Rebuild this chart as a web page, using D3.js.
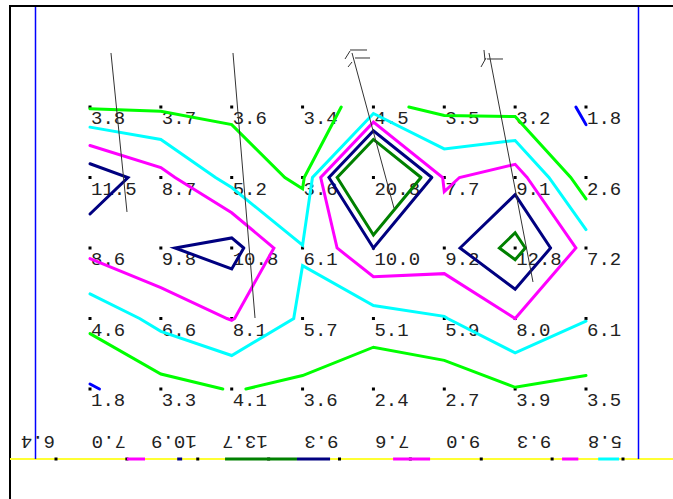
<!DOCTYPE html>
<html>
<head>
<meta charset="utf-8">
<script src="https://cdn.jsdelivr.net/npm/d3@7"></script>
<style>
  body { margin: 0; background: #fff; }
  svg { display: block; }
  .val { font-family: "Liberation Mono", "Courier New", monospace; font-size: 19px; fill: #222; }
</style>
</head>
<body>
<svg id="chart" width="673" height="499"></svg>
<script>
// grid values, top row first
const row1 = [3.8, 3.7, 3.6, 3.4, 4.5, 3.5, 3.2, 1.8];
const row2 = [11.5, 8.7, 5.2, 3.6, 20.8, 7.7, 9.1, 2.6];
const row3 = [8.6, 9.8, 10.8, 6.1, 10.0, 9.2, 12.8, 7.2];
const row4 = [4.6, 6.6, 8.1, 5.7, 5.1, 5.9, 8.0, 6.1];
const row5 = [1.8, 3.3, 4.1, 3.6, 2.4, 2.7, 3.9, 3.5];
const grid = [row1, row2, row3, row4, row5];

// profile along the bottom line (stations between columns)
const bottomValues = [6.4, 7.0, 10.9, 13.7, 9.3, 7.6, 9.0, 9.3, 5.8];
// [level, from station, to station]
const bottomSegments = [
    [8, 1.0, 1.256], [10, 1.71, 1.78], [12, 2.385, 3.40], [10, 3.40, 3.867],
    [8, 4.756, 5.278], [8, 7.14, 7.37], [6, 7.65, 7.945]
];

const levels = [2, 4, 6, 8, 10, 12];
const levelColors = ["#0000ff", "#00ff00", "#00ffff", "#ff00ff", "#000080", "#008000"];

// borehole traces in grid units [col, row]
const boreholes = [
    { top: [0.296, -0.766], bottom: [0.522, 1.489], mark: null },
    { top: [2.018, -0.766], bottom: [2.329, 2.993], mark: null },
    { top: [3.698, -0.766], bottom: [4.290, 1.433], mark: "a" },
    { top: [5.631, -0.766], bottom: [6.252, 2.482], mark: "b" }
];

const svg = d3.select("#chart");
const x = d3.scaleLinear().domain([0, 7]).range([90, 586]);
const y = d3.scaleLinear().domain([0, 4]).range([107, 389]);
const xb = d3.scaleLinear().domain([0, 8]).range([56, 623]);
const yb = 459;
const color = d3.scaleOrdinal().domain(levels).range(levelColors);

// frame
svg.append("line").attr("x1", 9).attr("x2", 673).attr("y1", 6).attr("y2", 6)
    .attr("stroke", "#000").attr("stroke-width", 2);
svg.append("line").attr("x1", 10).attr("x2", 10).attr("y1", 5).attr("y2", 499)
    .attr("stroke", "#000").attr("stroke-width", 2);
svg.append("line").attr("x1", 10).attr("x2", 673).attr("y1", yb).attr("y2", yb)
    .attr("stroke", "#ffff33").attr("stroke-width", 2);
[35.5, 638.5].forEach(function(px) {
    svg.append("line").attr("x1", px).attr("x2", px).attr("y1", 7).attr("y2", yb)
        .attr("stroke", "#0000ff").attr("stroke-width", 1.5);
});

// grid dots and labels
const cells = [];
grid.forEach(function(row, r) {
    row.forEach(function(v, c) { cells.push({ r: r, c: c, v: v }); });
});
svg.append("g").selectAll("rect").data(cells).enter().append("rect")
    .attr("x", (d) => x(d.c) - 1.5).attr("y", (d) => y(d.r) - 1.5)
    .attr("width", 3).attr("height", 3).attr("fill", "#000");
svg.append("g").selectAll("text").data(cells).enter().append("text")
    .attr("class", "val")
    .attr("x", (d) => x(d.c) + 1).attr("y", (d) => y(d.r) + 17)
    .text((d) => d.v.toFixed(1));

// bottom profile
svg.append("g").selectAll("rect").data(bottomValues).enter().append("rect")
    .attr("x", (d, i) => xb(i) - 1.5).attr("y", yb - 1.5)
    .attr("width", 3).attr("height", 3).attr("fill", "#000");
svg.append("g").selectAll("line").data(bottomSegments).enter().append("line")
    .attr("x1", (d) => xb(d[1])).attr("x2", (d) => xb(d[2]))
    .attr("y1", yb).attr("y2", yb)
    .attr("stroke", (d) => color(d[0])).attr("stroke-width", 3);
svg.append("g").selectAll("text").data(bottomValues).enter().append("text")
    .attr("class", "val")
    .attr("transform", (d, i) => `translate(${xb(i)},${yb}) rotate(180)`)
    .attr("x", 1).attr("y", 23)
    .text((d) => d.toFixed(1));

/* CONTOURS (marching squares)
 */

function contourSegments(level) {
    let segs = [];
    const nr = grid.length, nc = grid[0].length;
    function cross(r1, c1, r2, c2) {
        const v1 = grid[r1][c1], v2 = grid[r2][c2];
        if ((v1 >= level) == (v2 >= level)) return null;
        const t = (level - v1) / (v2 - v1);
        return [c1 + (c2 - c1) * t, r1 + (r2 - r1) * t];
    }
    for (let r = 0; r < nr - 1; r++) {
        for (let c = 0; c < nc - 1; c++) {
            const pts = [
                cross(r, c, r, c + 1),         // top
                cross(r, c + 1, r + 1, c + 1), // right
                cross(r + 1, c, r + 1, c + 1), // bottom
                cross(r, c, r + 1, c)          // left
            ].filter((p) => p);
            if (pts.length == 2) {
                segs.push([pts[0], pts[1]]);
            } else if (pts.length == 4) {
                const mid = (grid[r][c] + grid[r][c + 1] + grid[r + 1][c] + grid[r + 1][c + 1]) / 4;
                if ((mid >= level) == (grid[r][c] >= level)) {
                    segs.push([pts[0], pts[1]], [pts[2], pts[3]]);
                } else {
                    segs.push([pts[0], pts[3]], [pts[1], pts[2]]);
                }
            }
        }
    }
    return segs.filter((s) => Math.hypot(s[0][0] - s[1][0], s[0][1] - s[1][1]) > 1e-9);
}

function stitch(segs) {
    const key = (p) => p[0].toFixed(4) + "," + p[1].toFixed(4);
    let used = segs.map(() => false);
    let lines = [];
    for (let i = 0; i < segs.length; i++) {
        if (used[i]) continue;
        used[i] = true;
        let chain = [segs[i][0], segs[i][1]];
        let grown = true;
        while (grown) {
            grown = false;
            for (let j = 0; j < segs.length; j++) {
                if (used[j]) continue;
                const a = key(segs[j][0]), b = key(segs[j][1]);
                const head = key(chain[0]), tail = key(chain[chain.length - 1]);
                if (a == tail) { chain.push(segs[j][1]); }
                else if (b == tail) { chain.push(segs[j][0]); }
                else if (a == head) { chain.unshift(segs[j][1]); }
                else if (b == head) { chain.unshift(segs[j][0]); }
                else continue;
                used[j] = true;
                grown = true;
            }
        }
        lines.push(chain);
    }
    return lines;
}

const line = d3.line().x((d) => x(d[0])).y((d) => y(d[1]));
const contourGroup = svg.append("g");
levels.forEach(function(level) {
    stitch(contourSegments(level)).forEach(function(chain) {
        contourGroup.append("path")
            .attr("d", line(chain))
            .attr("fill", "none")
            .attr("stroke", color(level))
            .attr("stroke-width", 3)
            .attr("stroke-linejoin", "miter")
            .attr("stroke-linecap", "round");
    });
});

/* BOREHOLES
 */

const marks = {
    a: [[[-2, -3], [15, -3]], [[3, 5], [18, 5]], [[-2, -2], [-7, 6]], [[0, 9], [-4, 14]]],
    b: [[[-5, -3], [-4, 7]], [[-2, 6], [14, 6]], [[-3, 5], [-8, 14]]]
};
const holeGroup = svg.append("g").attr("stroke", "#333").attr("stroke-width", 1);
boreholes.forEach(function(h) {
    const tx = x(h.top[0]), ty = y(h.top[1]);
    holeGroup.append("line")
        .attr("x1", tx).attr("y1", ty)
        .attr("x2", x(h.bottom[0])).attr("y2", y(h.bottom[1]));
    if (h.mark) {
        marks[h.mark].forEach(function(s) {
            holeGroup.append("line")
                .attr("x1", tx + s[0][0]).attr("y1", ty + s[0][1])
                .attr("x2", tx + s[1][0]).attr("y2", ty + s[1][1]);
        });
    }
});
</script>
</body>
</html>
